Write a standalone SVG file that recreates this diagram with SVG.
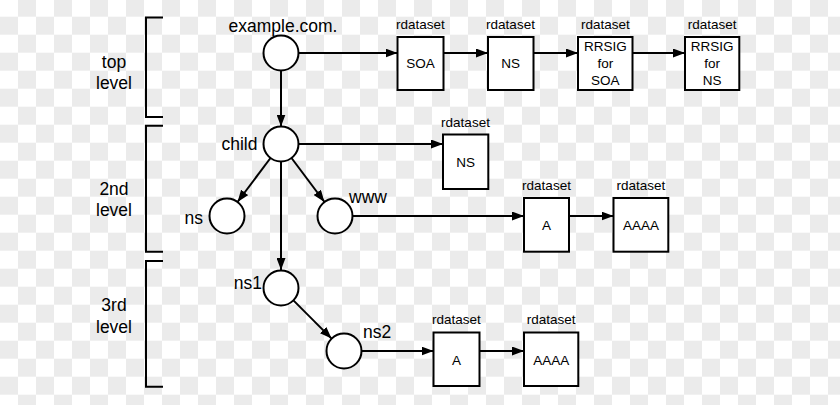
<svg xmlns="http://www.w3.org/2000/svg" width="840" height="405" viewBox="0 0 840 405">
<defs>
<pattern id="checker" x="0" y="-1.3" width="36" height="36" patternUnits="userSpaceOnUse">
<rect x="0" y="0" width="36" height="36" fill="#ffffff"/>
<rect x="18" y="0" width="18" height="18" fill="#ebebeb"/>
<rect x="0" y="18" width="18" height="18" fill="#ebebeb"/>
</pattern>
<marker id="arrow" markerUnits="userSpaceOnUse" markerWidth="12" markerHeight="9" refX="12" refY="4.5" orient="auto">
<path d="M0,0 L12,4.5 L0,9 Z" fill="#000"/>
</marker>
</defs>
<style>
text{font-family:"Liberation Sans",Arial,Helvetica,sans-serif;fill:#000}
.lbl{font-size:17.5px}
.lvl{font-size:17.5px;text-anchor:middle}
.rd{font-size:13.5px;text-anchor:middle}
.bx{font-size:13.5px;text-anchor:middle}
.node circle{fill:#fff;stroke:#000;stroke-width:2}
.box rect{fill:#fff;stroke:#000;stroke-width:2}
.edge{fill:none;stroke:#000;stroke-width:2;marker-end:url(#arrow)}
.bracket{fill:none;stroke:#000;stroke-width:2}
</style>
<rect x="0" y="0" width="840" height="405" fill="url(#checker)"/>

<g id="levels">
<path class="bracket" d="M163,17.5 H146 V117 H163"/>
<path class="bracket" d="M163,125.7 H146 V251.7 H163"/>
<path class="bracket" d="M163,261 H146 V386.7 H163"/>
<text class="lvl" x="114" y="67.5">top</text>
<text class="lvl" x="114" y="88.5">level</text>
<text class="lvl" x="114" y="194.5">2nd</text>
<text class="lvl" x="114" y="215.5">level</text>
<text class="lvl" x="114" y="311">3rd</text>
<text class="lvl" x="114" y="333">level</text>
</g>

<g id="connectors">
<line class="edge" x1="281" y1="71" x2="281" y2="126.5"/>
<line class="edge" x1="298.5" y1="53" x2="397.5" y2="53"/>
<line class="edge" x1="443.5" y1="53" x2="488" y2="53"/>
<line class="edge" x1="533.5" y1="53" x2="578" y2="53"/>
<line class="edge" x1="632.5" y1="53" x2="685" y2="53"/>
<line class="edge" x1="298.5" y1="144" x2="443" y2="144"/>
<line class="edge" x1="270.5" y1="158" x2="237.5" y2="202"/>
<line class="edge" x1="291.5" y1="158" x2="324.5" y2="202"/>
<line class="edge" x1="281" y1="161.5" x2="281" y2="270"/>
<line class="edge" x1="352.5" y1="216" x2="524" y2="216"/>
<line class="edge" x1="569" y1="216" x2="613.5" y2="216"/>
<line class="edge" x1="293.4" y1="300.4" x2="331.6" y2="338.6"/>
<line class="edge" x1="361.5" y1="351" x2="433.5" y2="351"/>
<line class="edge" x1="479.5" y1="351" x2="524" y2="351"/>
</g>

<g id="node-example" class="node">
<circle cx="281" cy="53" r="17.5"/>
<text class="lbl" x="283" y="31.5" text-anchor="middle">example.com.</text>
</g>
<g id="node-child" class="node">
<circle cx="281" cy="144" r="17.5"/>
<text class="lbl" x="257.5" y="149.5" text-anchor="end">child</text>
</g>
<g id="node-ns" class="node">
<circle cx="227" cy="216" r="17.5"/>
<text class="lbl" x="203" y="224" text-anchor="end">ns</text>
</g>
<g id="node-www" class="node">
<circle cx="335" cy="216" r="17.5"/>
<text class="lbl" x="349" y="203">www</text>
</g>
<g id="node-ns1" class="node">
<circle cx="281" cy="288" r="17.5"/>
<text class="lbl" x="262" y="288.5" text-anchor="end">ns1</text>
</g>
<g id="node-ns2" class="node">
<circle cx="344" cy="351" r="17.5"/>
<text class="lbl" x="363" y="338">ns2</text>
</g>

<g id="rr-soa" class="box">
<text class="rd" x="420.3" y="28.5">rdataset</text>
<rect x="397.5" y="37" width="46" height="53"/>
<text class="bx" x="420.5" y="68.3">SOA</text>
</g>
<g id="rr-ns" class="box">
<text class="rd" x="510.5" y="28.5">rdataset</text>
<rect x="488" y="37" width="45.5" height="53"/>
<text class="bx" x="510.7" y="68.3">NS</text>
</g>
<g id="rr-rrsig-soa" class="box">
<text class="rd" x="605.3" y="28.5">rdataset</text>
<rect x="578" y="37" width="54.5" height="53"/>
<text class="bx" x="605.3" y="50.5">RRSIG</text>
<text class="bx" x="605.3" y="67.8">for</text>
<text class="bx" x="605.3" y="85">SOA</text>
</g>
<g id="rr-rrsig-ns" class="box">
<text class="rd" x="712.2" y="28.5">rdataset</text>
<rect x="685" y="37" width="54.3" height="53"/>
<text class="bx" x="712.2" y="50.5">RRSIG</text>
<text class="bx" x="712.2" y="67.8">for</text>
<text class="bx" x="712.2" y="85">NS</text>
</g>
<g id="rr-child-ns" class="box">
<text class="rd" x="465.5" y="126.7">rdataset</text>
<rect x="443" y="134.5" width="45.3" height="54.5"/>
<text class="bx" x="465.6" y="166.7">NS</text>
</g>
<g id="rr-www-a" class="box">
<text class="rd" x="546.5" y="190">rdataset</text>
<rect x="524" y="198" width="45" height="53.7"/>
<text class="bx" x="546.5" y="230">A</text>
</g>
<g id="rr-www-aaaa" class="box">
<text class="rd" x="640.8" y="190">rdataset</text>
<rect x="613.5" y="198" width="54.8" height="53.7"/>
<text class="bx" x="640.9" y="230">AAAA</text>
</g>
<g id="rr-ns2-a" class="box">
<text class="rd" x="456.3" y="324">rdataset</text>
<rect x="433.5" y="332.5" width="46" height="53.5"/>
<text class="bx" x="456.5" y="365">A</text>
</g>
<g id="rr-ns2-aaaa" class="box">
<text class="rd" x="551.2" y="324">rdataset</text>
<rect x="524" y="332.5" width="54.3" height="53.5"/>
<text class="bx" x="551.2" y="365">AAAA</text>
</g>
</svg>
